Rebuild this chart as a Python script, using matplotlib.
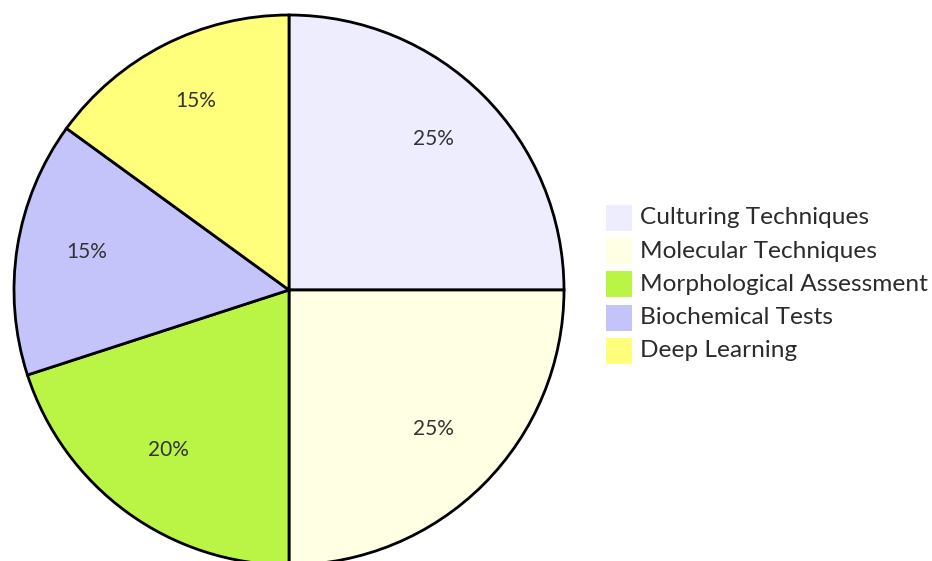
import matplotlib
matplotlib.use("Agg")
import matplotlib.pyplot as plt
from matplotlib.patches import Rectangle

categories = ["Culturing Techniques", "Molecular Techniques", "Morphological Assessment",
              "Biochemical Tests", "Deep Learning"]
values = [25, 25, 20, 15, 15]
colors = ["#EDEDFD", "#FFFFE3", "#BAF545", "#C4C4FA", "#FFFF7C"]

plt.rcParams['font.family'] = ['Lato', 'DejaVu Sans']

W, H = 932, 561
fig = plt.figure(figsize=(W / 100, H / 100), dpi=100)
cx, cy, r = 289, 290, 275
ax = fig.add_axes([(cx - r) / W, (H - cy - r) / H, 2 * r / W, 2 * r / H])

wedges, texts, autotexts = ax.pie(
    values, colors=colors, startangle=90, counterclock=False, radius=1,
    autopct=lambda p: f"{p:.0f}%", pctdistance=0.745,
    wedgeprops=dict(edgecolor="black", linewidth=2),
    textprops=dict(fontsize=15, color="#333333"))
ax.set_xlim(-1, 1)
ax.set_ylim(-1, 1)
ax.axis("off")
for w in wedges:
    w.set_clip_on(False)
for t in autotexts:
    t.set_va("baseline")
    t.set_ha("center")

# legend
x_sq, y0, dy, sq = 606, 218, 33.2, 26
txts = []
for i, (lab, col) in enumerate(zip(categories, colors)):
    yc = y0 + i * dy
    fig.patches.append(Rectangle((x_sq / W, (H - yc - sq / 2) / H), sq / W, sq / H,
                                 transform=fig.transFigure, facecolor=col, edgecolor="none"))
    txts.append(fig.text(640 / W, (H - yc) / H, lab, fontsize=16, color="#2b2b2b",
                         va="center", ha="left"))

# scale legend font so "Culturing Techniques" spans ~230 px
fig.canvas.draw()
rend = fig.canvas.get_renderer()
wpx = txts[0].get_window_extent(rend).width
fs = 16 * 230 / wpx
for t in txts:
    t.set_fontsize(fs)

fig.savefig("out.png", dpi=100)
